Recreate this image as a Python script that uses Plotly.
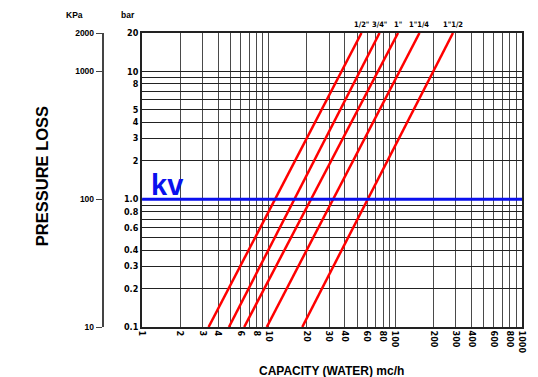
import math
import plotly.graph_objects as go

# ---- data ----
pipe_sizes = ['1/2"', '3/4"', '1"', '1"1/4', '1"1/2']
q_at_low = [3.35, 4.85, 6.4, 9.65, 18.4]      # m3/h at 0.1 bar
q_at_high = [54, 75, 105, 155, 285]            # m3/h at 20 bar
dp_low, dp_high = 0.1, 20                      # bar

x_grid = [1, 2, 3, 4, 5, 6, 7, 8, 9, 10, 20, 30, 40, 50, 60, 70, 80, 90, 100,
          200, 300, 400, 500, 600, 700, 800, 900, 1000]
x_labels = ["1", "2", "3", "4", "", "6", "", "8", "", "10", "20", "30", "40", "", "60", "", "80", "", "100",
            "200", "300", "400", "", "600", "", "800", "", "1000"]
y_grid = [0.1, 0.2, 0.3, 0.4, 0.5, 0.6, 0.7, 0.8, 0.9, 1, 2, 3, 4, 5, 6, 7, 8, 9, 10, 20]
y_labels = ["0.1", "0.2", "0.3", "0.4", "", "0.6", "", "0.8", "", "1.0", "2", "3", "4", "5", "", "", "8", "", "10", "20"]
kpa_ticks = [10, 100, 1000, 2000]
kpa_labels = ["10", "100", "1000", "2000"]
kv_level = 1.0

W, H = 538, 377
ML, MR, MT, MB = 60, 11, 33, 50
PW, PH = W - ML - MR, H - MT - MB
def px(x):
    return (x - ML) / PW
def py(y):
    return (H - MB - y) / PH

narrow = "Liberation Sans Narrow, DejaVu Sans Condensed, Liberation Sans, Arial"
sans = "Liberation Sans, Arial"

fig = go.Figure()

for name, q0, q1 in zip(pipe_sizes, q_at_low, q_at_high):
    fig.add_trace(go.Scatter(x=[q0, q1], y=[dp_low, dp_high], mode="lines",
                             line=dict(color="#ff0000", width=2.5), name=name,
                             showlegend=False, hoverinfo="skip"))

fig.add_trace(go.Scatter(x=[x_grid[0], x_grid[-1]], y=[kv_level, kv_level], mode="lines",
                         line=dict(color="#0a10ee", width=3), showlegend=False, hoverinfo="skip"))

# invisible trace so that the kPa axis is drawn
fig.add_trace(go.Scatter(x=[1, 1], y=[kpa_ticks[0], kpa_ticks[-1]], yaxis="y2", mode="markers",
                         marker=dict(opacity=0), showlegend=False, hoverinfo="skip"))

fig.update_layout(
    width=W, height=H,
    margin=dict(l=ML, r=MR, t=MT, b=MB),
    paper_bgcolor="white", plot_bgcolor="white",
    xaxis=dict(type="log", range=[0, 3], domain=[83 / PW, 1],
               tickvals=x_grid, ticktext=x_labels, tickangle=90,
               tickfont=dict(family=narrow, size=9, color="black", weight="bold"),
               showgrid=True, gridcolor="#4a4a4a", gridwidth=1,
               showline=True, linecolor="#222", linewidth=1.5, mirror=True,
               ticks="", zeroline=False),
    yaxis=dict(type="log", range=[math.log10(dp_low), math.log10(dp_high)],
               tickvals=y_grid, ticktext=y_labels,
               tickfont=dict(family=narrow, size=9, color="black", weight="bold"),
               showgrid=True, gridcolor="#222", gridwidth=1,
               showline=True, linecolor="#222", linewidth=2, mirror=True,
               ticks="", zeroline=False),
    yaxis2=dict(type="log", range=[math.log10(kpa_ticks[0]), math.log10(kpa_ticks[-1])],
                overlaying="y", anchor="free", position=px(103), side="left",
                tickvals=kpa_ticks, ticktext=kpa_labels,
                tickfont=dict(family=sans, size=8.5, color="black", weight="bold"),
                ticks="outside", ticklen=6, tickcolor="#444",
                showgrid=False, showline=True, linecolor="#444", linewidth=1.5,
                zeroline=False),
)

annotations = []
for name, q1 in zip(pipe_sizes, q_at_high):
    annotations.append(dict(x=math.log10(q1), y=1, xref="x", yref="paper", text=name,
                            showarrow=False, yanchor="bottom", xanchor="center", yshift=2,
                            font=dict(family=narrow, size=7.5, color="black", weight="bold")))
annotations += [
    dict(x=px(75), y=py(15), xref="paper", yref="paper", text="KPa", showarrow=False,
         xanchor="center", yanchor="middle",
         font=dict(family=sans, size=8.5, color="black", weight="bold")),
    dict(x=px(129), y=py(15), xref="paper", yref="paper", text="bar", showarrow=False,
         xanchor="center", yanchor="middle",
         font=dict(family=sans, size=8.5, color="black", weight="bold")),
    dict(x=px(150), y=py(185), xref="paper", yref="paper", text="kv", showarrow=False,
         xanchor="left", yanchor="middle",
         font=dict(family=sans, size=29, color="#0a10ee", weight="bold")),
    dict(x=px(42), y=py(176), xref="paper", yref="paper", text="PRESSURE LOSS", showarrow=False,
         xanchor="center", yanchor="middle", textangle=-90,
         font=dict(family=sans, size=16.5, color="black", weight="bold")),
    dict(x=px(334), y=py(362), xref="paper", yref="paper", text="CAPACITY (WATER) mc/h",
         showarrow=False, xanchor="center", yanchor="top",
         font=dict(family=sans, size=12, color="black", weight="bold")),
]
fig.update_layout(annotations=annotations)

fig.write_html("out.html", config={"displayModeBar": False},
               post_script="document.body.style.margin='0';document.body.style.padding='0';")
